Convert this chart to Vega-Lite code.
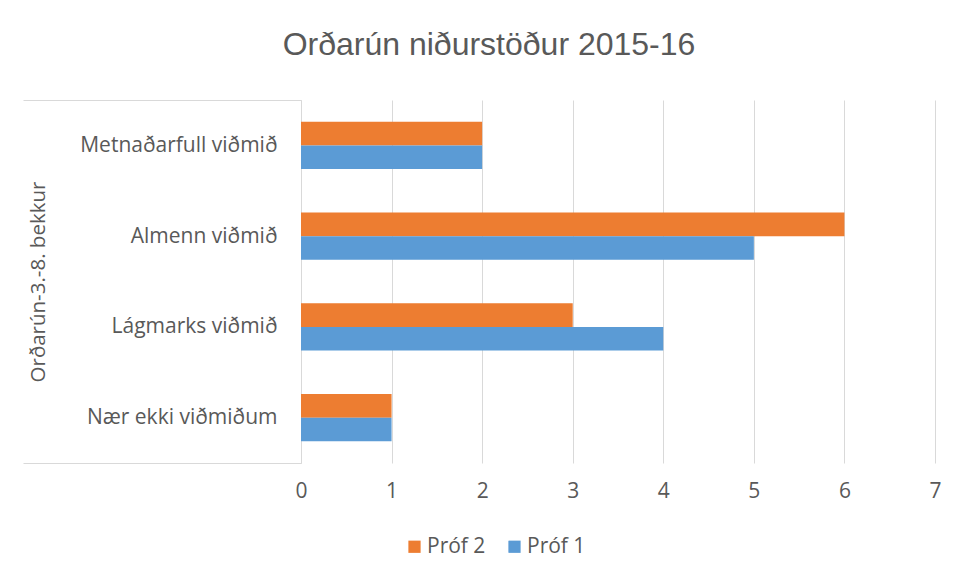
{
  "$schema": "https://vega.github.io/schema/vega-lite/v6.json",
  "autosize": {"type": "none"},
  "width": 634,
  "height": 363,
  "padding": {"left": 301, "top": 100, "right": 23, "bottom": 116},
  "background": "white",
  "title": {
    "text": "Orðarún niðurstöður 2015-16",
    "font": "Liberation Sans",
    "fontSize": 32,
    "fontWeight": "normal",
    "color": "#595959",
    "anchor": "middle",
    "frame": "group",
    "dx": -129,
    "offset": 27
  },
  "data": {
    "values": [
      {"flokkur": "Metnaðarfull viðmið", "próf": "Próf 2", "fjöldi": 2},
      {"flokkur": "Metnaðarfull viðmið", "próf": "Próf 1", "fjöldi": 2},
      {"flokkur": "Almenn viðmið", "próf": "Próf 2", "fjöldi": 6},
      {"flokkur": "Almenn viðmið", "próf": "Próf 1", "fjöldi": 5},
      {"flokkur": "Lágmarks viðmið", "próf": "Próf 2", "fjöldi": 3},
      {"flokkur": "Lágmarks viðmið", "próf": "Próf 1", "fjöldi": 4},
      {"flokkur": "Nær ekki viðmiðum", "próf": "Próf 2", "fjöldi": 1},
      {"flokkur": "Nær ekki viðmiðum", "próf": "Próf 1", "fjöldi": 1}
    ]
  },
  "mark": {"type": "bar"},
  "encoding": {
    "y": {
      "field": "flokkur",
      "type": "nominal",
      "sort": ["Metnaðarfull viðmið", "Almenn viðmið", "Lágmarks viðmið", "Nær ekki viðmiðum"],
      "scale": {"paddingInner": 0, "paddingOuter": 0},
      "axis": {
        "title": "Orðarún-3.-8. bekkur",
        "titleFont": "Open Sans",
        "titleFontSize": 20.5,
        "titleFontWeight": "normal",
        "titleColor": "#595959",
        "titleAngle": -90,
        "titleX": -263,
        "titleY": 181.5,
        "titleAlign": "center",
        "titleBaseline": "middle",
        "tickBand": "extent",
        "tickSize": 278,
        "tickColor": "#d9d9d9",
        "tickOpacity": {"condition": {"test": "datum.index >= 0 && datum.index < 1", "value": 0}, "value": 1},
        "domainColor": "#d9d9d9",
        "labelPadding": -254,
        "labelFont": "Open Sans",
        "labelFontSize": 21,
        "labelColor": "#595959",
        "labelLimit": 300
      }
    },
    "yOffset": {
      "field": "próf",
      "type": "nominal",
      "sort": ["Próf 2", "Próf 1"],
      "scale": {"paddingInner": 0, "paddingOuter": 0.92}
    },
    "x": {
      "field": "fjöldi",
      "type": "quantitative",
      "scale": {"domain": [0, 7], "nice": false},
      "axis": {
        "title": null,
        "values": [0, 1, 2, 3, 4, 5, 6, 7],
        "grid": true,
        "gridColor": "#d9d9d9",
        "domain": false,
        "ticks": false,
        "labelFlush": false,
        "labelPadding": 17,
        "labelFont": "Open Sans",
        "labelFontSize": 21,
        "labelColor": "#595959"
      }
    },
    "color": {
      "field": "próf",
      "type": "nominal",
      "sort": ["Próf 2", "Próf 1"],
      "scale": {"domain": ["Próf 2", "Próf 1"], "range": ["#ED7D31", "#5B9BD5"]},
      "legend": {
        "title": null,
        "orient": "none",
        "direction": "horizontal",
        "legendX": 103,
        "legendY": 436,
        "symbolType": "square",
        "symbolSize": 150,
        "symbolStrokeWidth": 0,
        "symbolOpacity": 1,
        "labelFont": "Open Sans",
        "labelFontSize": 21,
        "labelColor": "#595959",
        "columnPadding": 18,
        "labelOffset": 2
      }
    }
  },
  "config": {
    "view": {"stroke": null},
    "axis": {"gridWidth": 1, "tickWidth": 1, "domainWidth": 1}
  }
}
